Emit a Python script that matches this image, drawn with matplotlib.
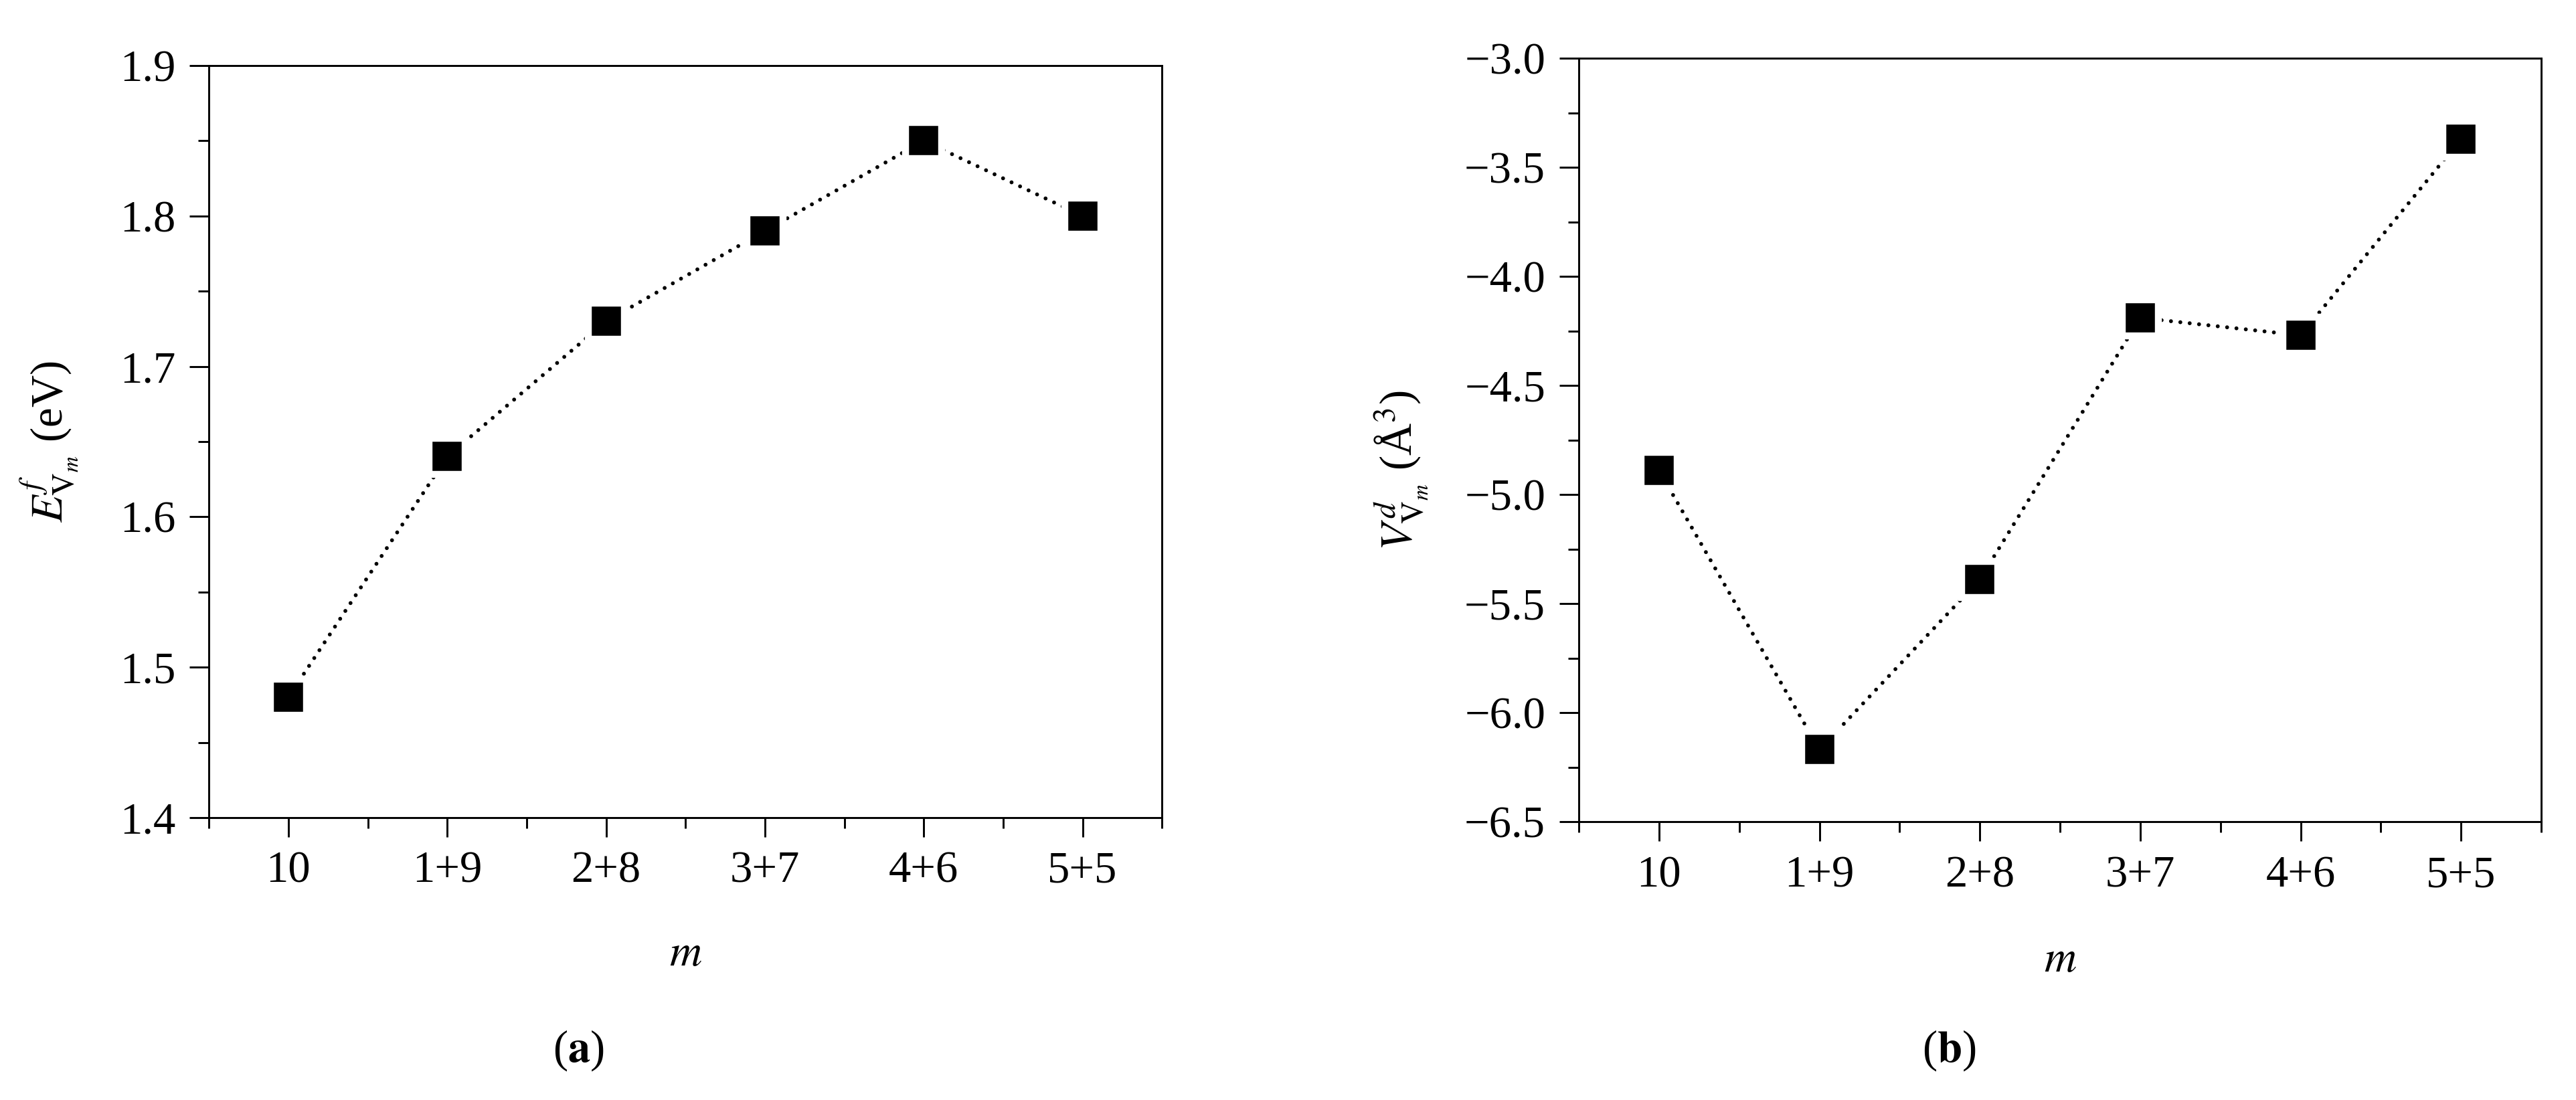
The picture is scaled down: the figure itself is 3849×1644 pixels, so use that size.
import matplotlib
matplotlib.use('Agg')
import matplotlib.pyplot as plt
from matplotlib.ticker import MultipleLocator, FixedLocator

plt.rcParams['font.family'] = 'Liberation Serif'
plt.rcParams['mathtext.fontset'] = 'stix'
plt.rcParams['axes.unicode_minus'] = True

categories = ['10', '1+9', '2+8', '3+7', '4+6', '5+5']
formation_energy = [1.48, 1.64, 1.73, 1.79, 1.85, 1.80]
relaxation_volume = [-4.89, -6.17, -5.39, -4.19, -4.27, -3.37]

energy_ticks = [1.4, 1.5, 1.6, 1.7, 1.8, 1.9]
volume_ticks = [-6.5, -6.0, -5.5, -5.0, -4.5, -4.0, -3.5, -3.0]

fig = plt.figure(figsize=(3849 / 300, 1644 / 300), dpi=300)
ax1 = fig.add_axes([0.0811, 0.2567, 0.3700, 0.6837])
ax2 = fig.add_axes([0.6129, 0.2530, 0.3736, 0.6940])


def draw_panel(ax, values, yticks, yminor, ylabel, label_x, label_y):
    x = list(range(len(categories)))
    ax.plot(x, values, color='black', lw=1.4, linestyle=(0, (0.01, 2.4)),
            dash_capstyle='round', marker='s', markersize=13,
            markerfacecolor='black', markeredgecolor='white',
            markeredgewidth=2.5)
    ax.set_xlim(-0.5, 5.5)
    ax.set_ylim(yticks[0], yticks[-1])
    ax.xaxis.set_major_locator(FixedLocator(x))
    ax.set_xticklabels(categories)
    ax.xaxis.set_minor_locator(MultipleLocator(0.5))
    ax.set_yticks(yticks)
    ax.set_yticklabels([f'{t:.1f}'.replace('-', '\u2212') for t in yticks])
    ax.yaxis.set_minor_locator(MultipleLocator(yminor))
    ax.tick_params(which='major', direction='out', length=7, width=0.7,
                   labelsize=16, pad=5)
    ax.tick_params(which='minor', direction='out', length=3.8, width=0.7)
    ax.tick_params(top=False, right=False, which='both')
    for s in ax.spines.values():
        s.set_linewidth(0.7)
    ax.set_xlabel('$m$', fontsize=16)
    ax.xaxis.set_label_coords(0.5, -0.155)
    ax.set_ylabel(ylabel, fontsize=16)
    ax.yaxis.set_label_coords(label_x, label_y)


draw_panel(ax1, formation_energy, energy_ticks, 0.05,
           r'$E^{f}_{\mathrm{V}_{m}}$ (eV)', -0.135, 0.5)
draw_panel(ax2, relaxation_volume, volume_ticks, 0.25,
           r'$V^{d}_{\mathrm{V}_{m}}$ (Å$^{3}$)', -0.155, 0.46)

fig.text(0.2245, 0.045, r'($\mathbf{a}$)', ha='center', va='center', fontsize=16)
fig.text(0.7565, 0.045, r'($\mathbf{b}$)', ha='center', va='center', fontsize=16)

fig.savefig('out.png', dpi=300)
